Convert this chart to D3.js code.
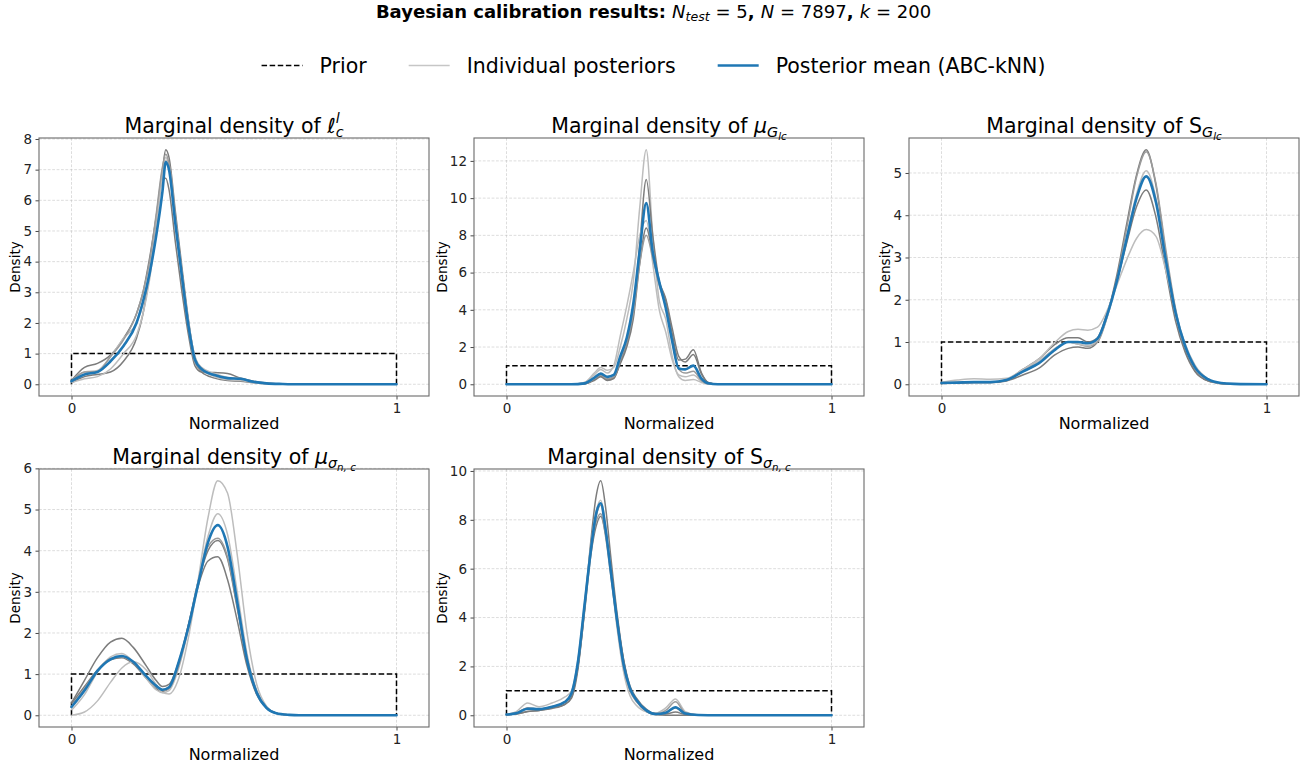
<!DOCTYPE html>
<html>
<head>
<meta charset="utf-8">
<script src="https://cdn.jsdelivr.net/npm/d3@7"></script>
<style>
  body { margin: 0; background: #fff; }
  svg { display: block; font-family: "DejaVu Sans", sans-serif; }
</style>
</head>
<body>
<svg id="fig" width="1307" height="767"></svg>
<script>
// ---------------------------------------------------------------------------
// Marginal posterior densities (normalised parameter space, 5 test cases)
// ---------------------------------------------------------------------------

// Uniform prior on [0, 1]
const priorX = [0, 0, 1, 1];
const priorY = [0, 1, 1, 0];
const xTicks = [0, 1];

// --- l_c^l -------------------------------------------------------------------
const xEll = [0, 0.04, 0.08, 0.12, 0.16, 0.2, 0.22, 0.24, 0.26, 0.28, 0.29, 0.30, 0.32, 0.34, 0.36, 0.38, 0.40, 0.44, 0.48, 0.52, 0.56, 0.60, 0.65, 0.7, 1.0];
const postEll = [
  [0.12, 0.55, 0.68, 0.95, 1.5, 2.3, 3.0, 4.1, 5.4, 6.7, 6.72, 6.35, 4.6, 3.0, 1.6, 0.6, 0.4, 0.38, 0.35, 0.2, 0.1, 0.04, 0.01, 0, 0],
  [0.05, 0.25, 0.32, 0.4, 0.75, 1.5, 2.3, 3.6, 5.3, 7.0, 7.65, 7.4, 5.6, 3.8, 2.1, 0.8, 0.4, 0.2, 0.12, 0.1, 0.05, 0.02, 0, 0, 0],
  [0.08, 0.4, 0.45, 0.9, 1.5, 2.0, 2.6, 3.8, 5.4, 7.0, 7.4, 7.1, 5.3, 3.6, 2.0, 0.9, 0.55, 0.35, 0.22, 0.15, 0.08, 0.03, 0.01, 0, 0],
  [0.05, 0.18, 0.25, 0.5, 1.0, 1.6, 2.3, 3.4, 5.0, 6.8, 7.3, 7.15, 5.4, 3.6, 2.0, 0.9, 0.5, 0.25, 0.15, 0.12, 0.06, 0.02, 0, 0, 0],
  [0.1, 0.4, 0.42, 0.9, 1.45, 2.3, 3.0, 4.0, 5.5, 7.1, 7.5, 7.2, 5.3, 3.4, 1.8, 0.7, 0.45, 0.3, 0.2, 0.2, 0.08, 0.03, 0.01, 0, 0]
];
const meanEll = [0.1, 0.32, 0.4, 0.75, 1.25, 2.0, 2.7, 3.6, 4.8, 6.3, 7.25, 7.0, 5.2, 3.5, 1.9, 0.8, 0.5, 0.3, 0.2, 0.18, 0.08, 0.03, 0.01, 0, 0];
const yTicksEll = [0, 1, 2, 3, 4, 5, 6, 7, 8];

// --- mu_{G_lc} ---------------------------------------------------------------
const xMuG = [0, 0.2, 0.24, 0.27, 0.29, 0.31, 0.33, 0.35, 0.37, 0.39, 0.41, 0.43, 0.45, 0.47, 0.49, 0.51, 0.53, 0.55, 0.575, 0.60, 0.62, 0.65, 1];
const postMuG = [
  [0, 0, 0.1, 0.6, 0.9, 0.75, 0.9, 2.0, 3.5, 5.5, 9.5, 12.6, 8.0, 4.5, 3.5, 1.5, 0.4, 0.2, 0.25, 0.1, 0.02, 0, 0],
  [0, 0, 0.02, 0.2, 0.4, 0.2, 0.3, 1.2, 2.2, 3.8, 7.5, 11.0, 8.0, 5.5, 4.5, 2.7, 1.3, 1.35, 1.85, 0.6, 0.1, 0, 0],
  [0, 0, 0.1, 0.5, 0.8, 0.6, 1.0, 2.6, 4.2, 6.0, 8.0, 8.8, 6.5, 4.0, 2.8, 1.3, 0.5, 0.4, 0.5, 0.15, 0.02, 0, 0],
  [0, 0, 0.02, 0.25, 0.45, 0.25, 0.35, 1.1, 2.0, 3.5, 6.5, 8.4, 7.0, 5.5, 4.6, 3.0, 1.5, 1.2, 1.6, 0.55, 0.1, 0, 0],
  [0, 0, 0.03, 0.3, 0.5, 0.3, 0.4, 1.3, 2.3, 3.8, 6.5, 8.0, 6.8, 5.3, 4.2, 2.3, 0.8, 0.6, 0.7, 0.2, 0.03, 0, 0]
];
const meanMuG = [0, 0, 0.05, 0.35, 0.57, 0.4, 0.5, 1.5, 2.5, 4.3, 7.2, 9.73, 7.1, 5.5, 4.1, 2.3, 0.85, 0.8, 1.0, 0.3, 0.05, 0, 0];
const yTicksMuG = [0, 2, 4, 6, 8, 10, 12];

// --- S_{G_lc} ----------------------------------------------------------------
const xSG = [0, 0.05, 0.1, 0.15, 0.2, 0.25, 0.3, 0.35, 0.39, 0.42, 0.45, 0.48, 0.51, 0.54, 0.57, 0.6, 0.63, 0.66, 0.69, 0.72, 0.75, 0.78, 0.82, 0.86, 0.9, 1];
const postSG = [
  [0.03, 0.03, 0.04, 0.04, 0.08, 0.22, 0.38, 0.7, 0.85, 0.88, 0.85, 1.0, 1.65, 2.6, 3.8, 4.95, 5.55, 4.7, 3.1, 1.7, 0.8, 0.32, 0.08, 0.02, 0, 0],
  [0.03, 0.05, 0.05, 0.05, 0.1, 0.3, 0.5, 0.85, 1.0, 0.95, 0.9, 1.0, 1.6, 2.5, 3.7, 4.9, 5.5, 4.75, 3.2, 1.8, 0.85, 0.35, 0.09, 0.02, 0, 0],
  [0.04, 0.05, 0.05, 0.05, 0.1, 0.32, 0.55, 0.85, 1.0, 0.95, 0.92, 1.05, 1.6, 2.45, 3.5, 4.5, 5.05, 4.4, 3.0, 1.7, 0.85, 0.38, 0.1, 0.02, 0, 0],
  [0.02, 0.03, 0.04, 0.04, 0.1, 0.35, 0.6, 0.95, 1.1, 1.1, 1.0, 1.1, 1.7, 2.45, 3.35, 4.2, 4.6, 3.95, 2.7, 1.5, 0.75, 0.3, 0.08, 0.02, 0, 0],
  [0.05, 0.1, 0.13, 0.12, 0.14, 0.35, 0.6, 1.0, 1.25, 1.3, 1.28, 1.35, 1.75, 2.35, 2.95, 3.45, 3.66, 3.5, 2.7, 1.72, 0.95, 0.45, 0.13, 0.03, 0.01, 0]
];
const meanSG = [0.03, 0.04, 0.05, 0.05, 0.1, 0.3, 0.5, 0.82, 1.0, 1.0, 0.97, 1.08, 1.65, 2.45, 3.45, 4.4, 4.92, 4.3, 2.95, 1.7, 0.9, 0.4, 0.12, 0.03, 0.01, 0];
const yTicksSG = [0, 1, 2, 3, 4, 5];

// --- mu_{sigma_n,c} ----------------------------------------------------------
const xMuS = [0, 0.04, 0.08, 0.12, 0.155, 0.19, 0.23, 0.26, 0.28, 0.3, 0.33, 0.36, 0.39, 0.42, 0.45, 0.48, 0.51, 0.54, 0.57, 0.6, 0.63, 0.67, 0.7, 1];
const postMuS = [
  [0.3, 0.85, 1.4, 1.78, 1.87, 1.65, 1.2, 0.85, 0.7, 0.75, 1.3, 2.2, 3.15, 3.75, 3.85, 3.3, 2.3, 1.2, 0.5, 0.17, 0.05, 0.01, 0, 0],
  [0.28, 0.7, 1.1, 1.35, 1.4, 1.25, 0.9, 0.65, 0.58, 0.65, 1.25, 2.2, 3.25, 4.0, 4.25, 3.8, 2.6, 1.35, 0.55, 0.18, 0.05, 0.01, 0, 0],
  [0.12, 0.5, 1.05, 1.42, 1.5, 1.3, 0.9, 0.62, 0.55, 0.6, 1.15, 2.1, 3.25, 4.35, 4.9, 4.4, 3.0, 1.5, 0.6, 0.2, 0.05, 0.01, 0, 0],
  [0.22, 0.65, 1.1, 1.38, 1.42, 1.28, 0.95, 0.7, 0.6, 0.65, 1.2, 2.15, 3.25, 4.1, 4.3, 3.85, 2.65, 1.4, 0.58, 0.2, 0.05, 0.01, 0, 0],
  [0, 0.08, 0.35, 0.8, 1.15, 1.3, 1.1, 0.75, 0.55, 0.52, 0.9, 1.9, 3.3, 4.8, 5.7, 5.4, 3.9, 2.0, 0.75, 0.22, 0.05, 0.01, 0, 0]
];
const meanMuS = [0.2, 0.6, 1.08, 1.36, 1.44, 1.3, 0.95, 0.72, 0.62, 0.68, 1.3, 2.15, 3.2, 4.2, 4.62, 4.1, 2.75, 1.35, 0.55, 0.18, 0.05, 0.01, 0, 0];
const yTicksMuS = [0, 1, 2, 3, 4, 5, 6];

// --- S_{sigma_n,c} -----------------------------------------------------------
const xSS = [0, 0.03, 0.065, 0.1, 0.14, 0.18, 0.2, 0.22, 0.24, 0.26, 0.275, 0.29, 0.305, 0.32, 0.34, 0.36, 0.38, 0.4, 0.43, 0.46, 0.49, 0.52, 0.55, 0.59, 0.65, 1];
const postSS = [
  [0.02, 0.05, 0.15, 0.2, 0.3, 0.45, 0.7, 1.9, 4.3, 7.2, 8.9, 9.6, 8.5, 6.6, 4.2, 2.3, 1.1, 0.6, 0.15, 0.02, 0, 0, 0, 0, 0, 0],
  [0.03, 0.15, 0.5, 0.35, 0.5, 0.75, 1.0, 2.3, 4.6, 7.0, 8.3, 8.8, 7.8, 6.0, 3.6, 1.8, 0.8, 0.4, 0.15, 0.1, 0.3, 0.67, 0.15, 0.01, 0, 0],
  [0.03, 0.08, 0.3, 0.25, 0.35, 0.55, 0.9, 2.2, 4.5, 6.9, 8.1, 8.6, 7.6, 6.0, 3.8, 2.0, 1.0, 0.55, 0.2, 0.06, 0.2, 0.55, 0.1, 0.01, 0, 0],
  [0.02, 0.05, 0.15, 0.2, 0.28, 0.45, 0.75, 2.0, 4.2, 6.6, 7.7, 8.15, 7.4, 6.0, 4.0, 2.3, 1.2, 0.7, 0.25, 0.05, 0.05, 0.13, 0.03, 0, 0, 0],
  [0.03, 0.1, 0.3, 0.25, 0.35, 0.55, 0.9, 2.1, 4.4, 6.8, 7.9, 8.25, 7.3, 5.8, 3.8, 2.1, 1.05, 0.6, 0.2, 0.05, 0.12, 0.3, 0.06, 0.01, 0, 0]
];
const meanSS = [0.03, 0.08, 0.27, 0.25, 0.35, 0.55, 0.9, 2.2, 4.5, 6.8, 8.2, 8.68, 7.6, 6.0, 3.9, 2.1, 1.1, 0.62, 0.2, 0.05, 0.1, 0.33, 0.07, 0.01, 0, 0];
const yTicksSS = [0, 2, 4, 6, 8, 10];

// Grey tone of each individual posterior curve (per panel)
const toneEll = ["dark", "dark", "light", "light", "mid"];
const toneMuG = ["light", "dark", "light", "dark", "mid"];
const toneSG  = ["dark", "mid", "light", "dark", "light"];
const toneMuS = ["dark", "dark", "light", "mid", "light"];
const toneSS  = ["dark", "light", "mid", "dark", "mid"];

// Panel titles as math tokens: t = text, i = italic, s = size factor, dy = baseline shift (em), hold = stack with next
const titleEll = [{t: "Marginal density of "}, {t: "ℓ", i: 1}, {t: "l", i: 1, s: 0.7, dy: -0.48, hold: 1}, {t: "c", i: 1, s: 0.7, dy: 0.24}];
const titleMuG = [{t: "Marginal density of "}, {t: "μ", i: 1}, {t: "G", i: 1, s: 0.7, dy: 0.22}, {t: "lc", i: 1, s: 0.5, dy: 0.36}];
const titleSG  = [{t: "Marginal density of S"}, {t: "G", i: 1, s: 0.7, dy: 0.22}, {t: "lc", i: 1, s: 0.5, dy: 0.36}];
const titleMuS = [{t: "Marginal density of "}, {t: "μ", i: 1}, {t: "σ", i: 1, s: 0.7, dy: 0.22}, {t: "n, c", i: 1, s: 0.5, dy: 0.36}];
const titleSS  = [{t: "Marginal density of S"}, {t: "σ", i: 1, s: 0.7, dy: 0.22}, {t: "n, c", i: 1, s: 0.5, dy: 0.36}];

const supTitle = [
  {t: "Bayesian calibration results: ", b: 1},
  {t: "N", i: 1}, {t: "test", i: 1, s: 0.7, dy: 0.22}, {t: " = 5"}, {t: ", ", b: 1},
  {t: "N", i: 1}, {t: " = 7897"}, {t: ", ", b: 1},
  {t: "k", i: 1}, {t: " = 200"}
];

const legendLabels = ["Prior", "Individual posteriors", "Posterior mean (ABC-kNN)"];

// ---------------------------------------------------------------------------
// Styling and layout
// ---------------------------------------------------------------------------
const toneColor = {dark: "#7c7c7c", mid: "#9b9b9b", light: "#bdbdbd"};
const meanColor = "#1f77b4";
const svg = d3.select("#fig");

const colLeft = [39, 474, 909];
const rowTop = [138, 469];
const axW = 390, axH = 258;

const panels = [
  {x: xEll, post: postEll, mean: meanEll, ticks: yTicksEll, tone: toneEll, title: titleEll},
  {x: xMuG, post: postMuG, mean: meanMuG, ticks: yTicksMuG, tone: toneMuG, title: titleMuG},
  {x: xSG,  post: postSG,  mean: meanSG,  ticks: yTicksSG,  tone: toneSG,  title: titleSG},
  {x: xMuS, post: postMuS, mean: meanMuS, ticks: yTicksMuS, tone: toneMuS, title: titleMuS},
  {x: xSS,  post: postSS,  mean: meanSS,  ticks: yTicksSS,  tone: toneSS,  title: titleSS}
];

// Render a run of text/math tokens centred on (cx, y); spaces kept as no-break spaces
function mathText(parent, tokens, cx, y, fs) {
  const g = parent.append("g");
  let cursor = 0, held = null;
  tokens.forEach(tk => {
    const size = fs * (tk.s || 1);
    const el = g.append("text")
      .attr("x", cursor)
      .attr("y", (tk.dy || 0) * fs)
      .attr("font-size", size)
      .attr("font-style", tk.i ? "italic" : "normal")
      .attr("font-weight", tk.b ? "bold" : "normal")
      .attr("fill", "#000")
      .text(tk.t.replace(/ /g, "\u00a0"));
    const w = el.node().getComputedTextLength();
    if (tk.hold) { held = w; return; }
    cursor += held !== null ? Math.max(held, w) : w;
    held = null;
  });
  g.attr("transform", `translate(${cx - cursor / 2},${y})`);
  return g;
}

// Figure title
mathText(svg, supTitle, 653.5, 17.5, 18);

// Legend
(function drawLegend() {
  const fs = 20.5, handle = 41, pad = 17, colSpace = 42, ly = 65.5;
  const tmp = svg.append("g");
  const widths = legendLabels.map(l => {
    const t = tmp.append("text").attr("font-size", fs).text(l);
    return t.node().getComputedTextLength();
  });
  tmp.remove();
  const total = d3.sum(widths) + legendLabels.length * (handle + pad) + (legendLabels.length - 1) * colSpace;
  let x = 653.5 - total / 2;
  const lg = svg.append("g");
  const styles = [
    {stroke: "#000", width: 1.5, dash: "5.5,2.6"},
    {stroke: "#c6c6c6", width: 1.5, dash: null},
    {stroke: meanColor, width: 2.6, dash: null}
  ];
  legendLabels.forEach((l, i) => {
    lg.append("line").attr("x1", x).attr("x2", x + handle).attr("y1", ly).attr("y2", ly)
      .attr("stroke", styles[i].stroke).attr("stroke-width", styles[i].width)
      .attr("stroke-dasharray", styles[i].dash);
    lg.append("text").attr("x", x + handle + pad).attr("y", ly + 7.2)
      .attr("font-size", fs).attr("fill", "#000").text(l);
    x += handle + pad + widths[i] + colSpace;
  });
})();

// Panels
panels.forEach((p, idx) => {
  const left = colLeft[idx % 3], top = rowTop[Math.floor(idx / 3)];
  const g = svg.append("g").attr("transform", `translate(${left},${top})`);

  const yMax = d3.max([1, d3.max(p.mean), d3.max(p.post.flat())]);
  const xs = d3.scaleLinear().domain([-0.1, 1.1]).range([0, axW]);
  const ys = d3.scaleLinear().domain([-0.05 * yMax, 1.05 * yMax]).range([axH, 0]);

  // dashed grid
  const grid = g.append("g").attr("stroke", "#b0b0b0").attr("stroke-width", 0.8)
    .attr("stroke-dasharray", "2.8,1.6").attr("stroke-opacity", 0.55);
  p.ticks.forEach(t => grid.append("line").attr("x1", 0).attr("x2", axW).attr("y1", ys(t)).attr("y2", ys(t)));
  xTicks.forEach(t => grid.append("line").attr("x1", xs(t)).attr("x2", xs(t)).attr("y1", 0).attr("y2", axH));

  // prior
  g.append("path")
    .datum(priorX.map((v, i) => [v, priorY[i]]))
    .attr("d", d3.line().x(d => xs(d[0])).y(d => ys(d[1])))
    .attr("fill", "none").attr("stroke", "#000").attr("stroke-width", 1.5)
    .attr("stroke-dasharray", "5.5,2.6");

  const line = d3.line().x(d => xs(d[0])).y(d => ys(d[1])).curve(d3.curveMonotoneX);

  // individual posteriors
  p.post.forEach((vals, k) => {
    g.append("path")
      .datum(p.x.map((v, i) => [v, vals[i]]))
      .attr("d", line)
      .attr("fill", "none").attr("stroke", toneColor[p.tone[k]])
      .attr("stroke-width", 1.5).attr("stroke-linejoin", "round");
  });

  // posterior mean
  g.append("path")
    .datum(p.x.map((v, i) => [v, p.mean[i]]))
    .attr("d", line)
    .attr("fill", "none").attr("stroke", meanColor)
    .attr("stroke-width", 2.6).attr("stroke-linejoin", "round").attr("stroke-linecap", "round");

  // axes
  const fmt = d3.format("d");
  const yAxis = g.append("g").call(d3.axisLeft(ys).tickValues(p.ticks).tickFormat(fmt).tickSize(3.5).tickPadding(3.5));
  const xAxis = g.append("g").attr("transform", `translate(0,${axH})`)
    .call(d3.axisBottom(xs).tickValues(xTicks).tickFormat(fmt).tickSize(3.5).tickPadding(3.5));
  [yAxis, xAxis].forEach(a => {
    a.select(".domain").remove();
    a.selectAll("line").attr("stroke", "#333").attr("stroke-width", 0.9);
    a.selectAll("text").attr("font-size", 13.5).attr("font-family", "DejaVu Sans").attr("fill", "#222");
  });

  // frame
  g.append("rect").attr("x", 0).attr("y", 0).attr("width", axW).attr("height", axH)
    .attr("fill", "none").attr("stroke", "#6a6a6a").attr("stroke-width", 1.1);

  // labels
  const maxTickW = d3.max(yAxis.selectAll("text").nodes(), n => n.getComputedTextLength());
  g.append("text").attr("transform", `translate(${-7 - maxTickW - 3},${axH / 2}) rotate(-90)`)
    .attr("text-anchor", "middle").attr("font-size", 13.5).attr("fill", "#000").text("Density");
  g.append("text").attr("x", axW / 2).attr("y", axH + 33).attr("text-anchor", "middle")
    .attr("font-size", 16).attr("fill", "#000").text("Normalized");

  mathText(g, p.title, axW / 2, -5.5, 20.5);
});
</script>
</body>
</html>
